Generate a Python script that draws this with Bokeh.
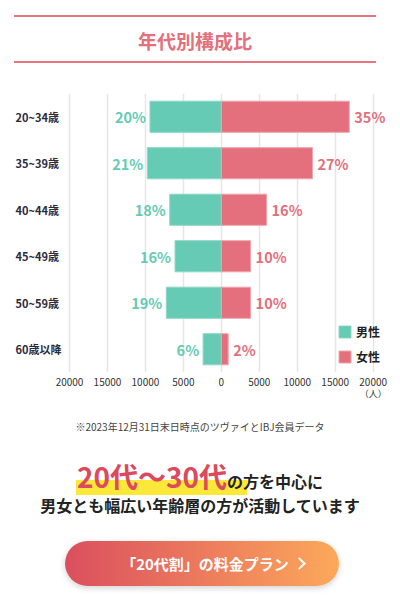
from bokeh.plotting import figure
from bokeh.models import (ColumnDataSource, FactorRange, Range1d, FixedTicker, Legend,
                          LegendItem, Div, LinearAxis)
from bokeh.layouts import column
from bokeh.core.properties import value
from bokeh.embed import file_html
from bokeh.resources import INLINE

# ---------------- data ----------------
categories = ["20~34歳", "35~39歳", "40~44歳", "45~49歳", "50~59歳", "60歳以降"]
male = [9400, 9750, 6800, 6100, 7250, 2400]
female = [16850, 12000, 5950, 3850, 3850, 900]
male_pct = ["20%", "21%", "18%", "16%", "19%", "6%"]
female_pct = ["35%", "27%", "16%", "10%", "10%", "2%"]
x_ticks = [-20000, -15000, -10000, -5000, 0, 5000, 10000, 15000, 20000]
x_tick_labels = ["20000", "15000", "10000", "5000", "0", "5000", "10000", "15000", "20000"]
unit_tick = [20000]
unit_label = "（人）"
legend_labels = ["男性", "女性"]

JP = "Noto Sans CJK JP"
MALE_C = "#66cbb4"
FEMALE_C = "#e3707c"

# ---------------- layout constants ----------------
W = 400
px_per_unit = 303.7 / 40000.0          # -20000 -> 20000 spans 303.7 px
frame_left_px = 69.0                    # -20000 sits 69 px from figure left
x_start = -20000 - frame_left_px / px_per_unit
x_end = 20000 + (W - frame_left_px - 303.7) / px_per_unit
cat_label_x = -20000 - 54.0 / px_per_unit

src = ColumnDataSource(dict(
    cat=categories,
    male_left=[-v for v in male],
    male_right=[0] * len(male),
    female_left=[0] * len(female),
    female_right=female,
    male_pct=male_pct,
    female_pct=female_pct,
    lab_x=[cat_label_x] * len(categories),
))

p = figure(width=W, height=336,
           x_range=Range1d(x_start, x_end),
           y_range=FactorRange(factors=categories[::-1]),
           y_axis_location=None,
           output_backend="svg", toolbar_location=None,
           min_border_left=0, min_border_right=0,
           min_border_top=23, min_border_bottom=34,
           outline_line_color=None, background_fill_color="white",
           border_fill_color="white")

ticker = FixedTicker(ticks=x_ticks)
p.xaxis.ticker = ticker
p.xaxis.major_label_overrides = {t: l for t, l in zip(x_ticks, x_tick_labels)}
p.xaxis.axis_line_color = None
p.xaxis.major_tick_line_color = None
p.xaxis.minor_tick_line_color = None
p.xaxis.major_tick_in = 0
p.xaxis.major_tick_out = 0
p.xaxis.major_label_standoff = 5
p.xaxis.major_label_text_font = JP
p.xaxis.major_label_text_font_size = "10px"
p.xaxis.major_label_text_color = "#333333"
p.xgrid.ticker = ticker
p.xgrid.grid_line_color = "#e6e6e6"
p.xgrid.grid_line_width = 1.5
p.ygrid.visible = False

# second (label-only) axis carrying the unit under the last tick
unit_axis = LinearAxis(ticker=FixedTicker(ticks=unit_tick),
                       major_label_overrides={unit_tick[0]: unit_label},
                       axis_line_color=None, major_tick_line_color=None,
                       minor_tick_line_color=None, major_tick_in=0, major_tick_out=0,
                       major_label_standoff=-2, major_label_text_font=JP,
                       major_label_text_font_size="9px", major_label_text_color="#333333")
p.add_layout(unit_axis, "below")

male_r = p.hbar(y="cat", left="male_left", right="male_right", height=0.67, source=src,
                fill_color=MALE_C, line_color="#8ad8c5", line_width=1)
female_r = p.hbar(y="cat", left="female_left", right="female_right", height=0.67, source=src,
                  fill_color=FEMALE_C, line_color="#f0a3ab", line_width=1)

p.text(x="male_left", y="cat", text="male_pct", source=src, x_offset=-4,
       text_align="right", text_baseline="middle", text_color=MALE_C,
       text_font=value(JP), text_font_size="14.5px", text_font_style="bold")
p.text(x="female_right", y="cat", text="female_pct", source=src, x_offset=5,
       text_align="left", text_baseline="middle", text_color=FEMALE_C,
       text_font=value(JP), text_font_size="14.5px", text_font_style="bold")
p.text(x="lab_x", y="cat", text="cat", source=src,
       text_align="left", text_baseline="middle", text_color="#2b2b40",
       text_font=value(JP), text_font_size="11px", text_font_style="bold")

legend = Legend(items=[LegendItem(label=legend_labels[0], renderers=[male_r]),
                       LegendItem(label=legend_labels[1], renderers=[female_r])],
                location=(337, 7), orientation="vertical",
                glyph_width=15, glyph_height=15, label_height=15,
                label_text_font=JP, label_text_font_size="12px",
                label_text_font_style="bold", label_text_color="#222222",
                label_standoff=4, spacing=8, padding=0, margin=0,
                background_fill_alpha=0, border_line_color=None)
p.add_layout(legend)

# ---------------- html parts ----------------
title_div = Div(width=W, height=70, margin=(0, 0, 0, 0), text=(
    f'<div style="margin:15px 0 0 14px;width:362px;height:48px;box-sizing:border-box;'
    f'border-top:2px solid #e8747e;border-bottom:2px solid #e8747e;'
    f'display:flex;align-items:center;justify-content:center;padding-top:4px;'
    f'font-family:\'{JP}\';font-weight:bold;font-size:19px;color:#e3707a;">年代別構成比</div>'))

note_div = Div(width=W, height=34, margin=(0, 0, 0, 0), text=(
    f'<div style="margin-top:14px;width:{W}px;text-align:center;line-height:14px;'
    f'font-family:\'{JP}\';font-size:10px;color:#444444;">'
    '※2023年12月31日末日時点のツヴァイとIBJ会員データ</div>'))

head_div = Div(width=W, height=90, margin=(0, 0, 0, 0), text=(
    f'<div style="position:relative;width:{W}px;height:90px;font-family:\'{JP}\';font-weight:bold;">'
    '<div style="position:absolute;left:76px;top:40px;width:171px;height:15px;background:#fbe839;"></div>'
    f'<div style="position:absolute;left:0;top:18px;width:{W}px;text-align:center;line-height:36px;white-space:nowrap;">'
    '<span style="font-size:28px;color:#dc4b5d;">20代〜30代</span>'
    '<span style="font-size:16px;color:#222222;">の方を中心に</span></div>'
    f'<div style="position:absolute;left:0;top:54px;width:{W}px;text-align:center;line-height:22px;'
    'font-size:16px;color:#222222;white-space:nowrap;">男女とも幅広い年齢層の方が活動しています</div>'
    '</div>'))

btn_div = Div(width=W, height=72, margin=(0, 0, 0, 0), text=(
    f'<div style="position:relative;width:{W}px;height:72px;">'
    '<div style="position:absolute;left:65px;top:11px;width:274px;height:45px;border-radius:23px;'
    'background:linear-gradient(90deg,#da4f5f 0%,#ec7b5d 50%,#fca95a 100%);'
    'box-shadow:0 2px 6px rgba(0,0,0,0.18);">'
    f'<div style="position:absolute;left:0;top:0;width:280px;height:45px;line-height:45px;text-align:center;'
    f'font-family:\'{JP}\';font-weight:bold;font-size:15px;color:#ffffff;white-space:nowrap;">「20代割」の料金プラン</div>'
    '<div style="position:absolute;left:230px;top:18px;width:9px;height:9px;'
    'border-top:2.5px solid #ffffff;border-right:2.5px solid #ffffff;transform:rotate(45deg);"></div>'
    '</div></div>'))

layout = column(title_div, p, note_div, head_div, btn_div, spacing=0)

open("out.html", "w").write(file_html(layout, INLINE))
